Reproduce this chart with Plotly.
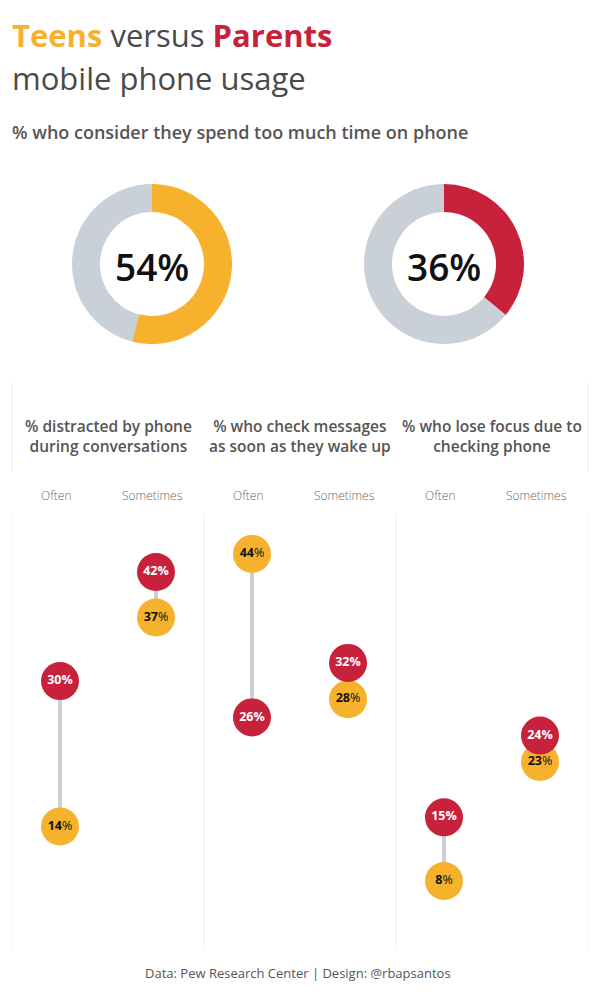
import plotly.graph_objects as go

W, H = 597, 994

# ---------------- data ----------------
donut_labels = ["Teens", "Parents"]
donut_values = [54, 36]

panel_titles = ["% distracted by phone<br>during conversations",
                "% who check messages<br>as soon as they wake up",
                "% who lose focus due to<br>checking phone"]
frequency = ["Often", "Sometimes"]
# values per panel: [Often, Sometimes]
teens = [[14, 37], [44, 28], [8, 23]]
parents = [[30, 42], [26, 32], [15, 24]]

YELLOW = "#F6B12D"
RED = "#C8213B"
GRAY = "#C9D0D8"
TXT = "#555555"
FONT = "Open Sans"


def py(px):
    return 1 - px / H


def pxx(px):
    return px / W


fig = go.Figure()

# ---------------- donuts ----------------
centers = [152, 444]
R = 80
cy = 264
donut_colors = [YELLOW, RED]
for i, (lab, v) in enumerate(zip(donut_labels, donut_values)):
    cx = centers[i]
    fig.add_trace(go.Pie(
        values=[v, 100 - v], labels=[lab, "Other"],
        marker=dict(colors=[donut_colors[i], GRAY], line=dict(width=0)),
        hole=0.65, sort=False, direction="clockwise", rotation=0,
        textinfo="none", hoverinfo="skip", showlegend=False,
        domain=dict(x=[pxx(cx - R), pxx(cx + R)], y=[py(cy + R), py(cy - R)]),
    ))
    fig.add_annotation(x=pxx(cx), y=py(cy + 3), xref="paper", yref="paper",
                       text=f"{v}%", showarrow=False,
                       font=dict(family=FONT, size=37, color="#111111", weight=600),
                       xanchor="center", yanchor="middle")

# ---------------- dumbbells ----------------
col_off = [0.25, 0.75]
min_gap = 2.9  # minimum visual separation (value units) to keep dots readable
tx, ty, ttext, rx, ry, rtext = [], [], [], [], [], []
for p in range(3):
    for c in range(2):
        x = p + col_off[c]
        t = teens[p][c]
        r = parents[p][c]
        t_pos = t
        if abs(r - t) < min_gap:
            t_pos = r - min_gap if r >= t else r + min_gap
        fig.add_trace(go.Scatter(x=[x, x], y=[t_pos, r], mode="lines",
                                 line=dict(color=GRAY, width=4),
                                 hoverinfo="skip", showlegend=False))
        tx.append(x); ty.append(t_pos); ttext.append(f"<b>{t}</b>%")
        rx.append(x); ry.append(r); rtext.append(f"<b>{r}%</b>")

fig.add_trace(go.Scatter(x=tx, y=ty, mode="markers+text", text=ttext,
                         textposition="middle center",
                         marker=dict(size=38, color=YELLOW, line=dict(width=0)),
                         textfont=dict(family=FONT, size=12.5, color="#111111"),
                         name="Teens", showlegend=False))
fig.add_trace(go.Scatter(x=rx, y=ry, mode="markers+text", text=rtext,
                         textposition="middle center",
                         marker=dict(size=38, color=RED, line=dict(width=0)),
                         textfont=dict(family=FONT, size=12.5, color="white"),
                         name="Parents", showlegend=False))

plot_top, plot_bot = 513, 950
fig.update_xaxes(range=[0, 3], domain=[pxx(12), pxx(588)], showgrid=False,
                 zeroline=False, showticklabels=False, fixedrange=True)
fig.update_yaxes(range=[0.4, 48.5], domain=[py(plot_bot), py(plot_top)],
                 showgrid=False, zeroline=False, showticklabels=False)

# panel separators
shapes = []
for k in range(4):
    shapes.append(dict(type="line", xref="x", yref="paper", x0=k, x1=k,
                       y0=py(plot_bot), y1=py(plot_top),
                       line=dict(color="#EFEFEF", width=1)))
for xp in [12, 588]:
    shapes.append(dict(type="line", xref="paper", yref="paper",
                       x0=pxx(xp), x1=pxx(xp), y0=py(472), y1=py(383),
                       line=dict(color="#EFEFEF", width=1)))
fig.update_layout(shapes=shapes)

# panel titles and column labels
for p in range(3):
    fig.add_annotation(x=p + 0.5, y=py(436), xref="x", yref="paper",
                       text=panel_titles[p], showarrow=False,
                       font=dict(family=FONT, size=15.5, color=TXT, weight=600),
                       xanchor="center", yanchor="middle", align="center")
    for c in range(2):
        fig.add_annotation(x=p + col_off[c] - 0.02, y=py(495), xref="x", yref="paper",
                           text=frequency[c], showarrow=False,
                           font=dict(family=FONT, size=12, color="#6A6A6A", weight=300),
                           xanchor="center", yanchor="middle")

# titles
fig.add_annotation(x=pxx(10), y=py(35), xref="paper", yref="paper",
                   text=f"<span style='color:{YELLOW}'><b>Teens</b></span> versus "
                        f"<span style='color:{RED}'><b>Parents</b></span>",
                   showarrow=False, xanchor="left", yanchor="middle",
                   font=dict(family=FONT, size=31, color="#4A4A4A", weight=500))
fig.add_annotation(x=pxx(10), y=py(78), xref="paper", yref="paper",
                   text="mobile phone usage", showarrow=False,
                   xanchor="left", yanchor="middle",
                   font=dict(family=FONT, size=31, color="#4A4A4A", weight=500))
fig.add_annotation(x=pxx(10), y=py(132), xref="paper", yref="paper",
                   text="% who consider they spend too much time on phone",
                   showarrow=False, xanchor="left", yanchor="middle",
                   font=dict(family=FONT, size=18, color=TXT, weight=600))
fig.add_annotation(x=pxx(298), y=py(973), xref="paper", yref="paper",
                   text="Data: Pew Research Center | Design: @rbapsantos",
                   showarrow=False, xanchor="center", yanchor="middle",
                   font=dict(family=FONT, size=13, color=TXT))

fig.update_layout(width=W, height=H, margin=dict(l=0, r=0, t=0, b=0),
                  paper_bgcolor="white", plot_bgcolor="white",
                  showlegend=False, font=dict(family=FONT))

fig.write_html("out.html", config={"displayModeBar": False})
